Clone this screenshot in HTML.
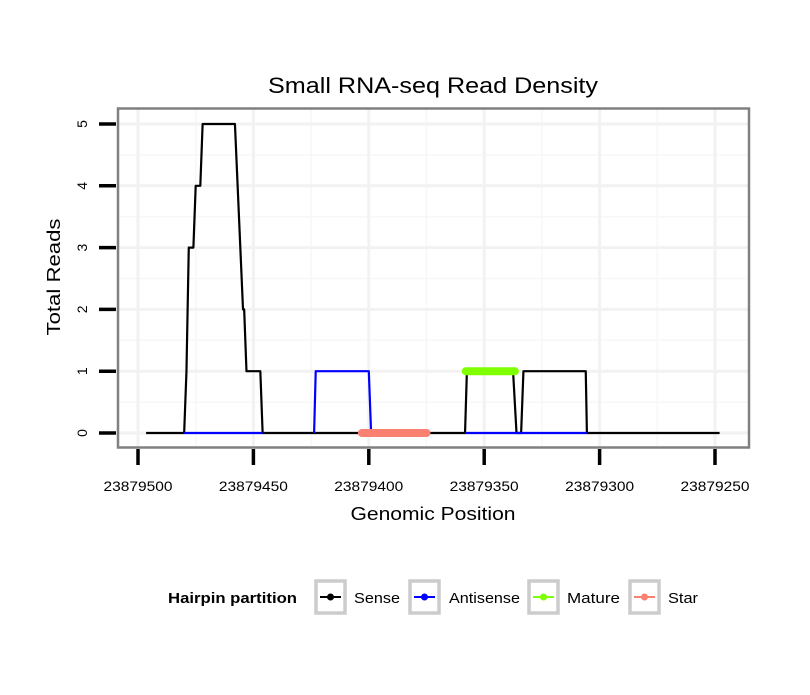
<!DOCTYPE html>
<html><head><meta charset="utf-8"><style>
body{margin:0;background:#fff;}
svg text{font-family:"Liberation Sans",sans-serif;}
</style></head><body>
<svg id="c" width="810" height="690" xmlns="http://www.w3.org/2000/svg">
<text x="433" y="93" font-size="22" text-anchor="middle" textLength="330" lengthAdjust="spacingAndGlyphs">Small RNA-seq Read Density</text>
<g id="grid"></g>
<g id="series"></g>
<rect x="118" y="108.5" width="631" height="339" fill="none" stroke="#808080" stroke-width="2.5"/>
<g id="axes"></g>
<text x="433" y="520" font-size="18" text-anchor="middle" textLength="165" lengthAdjust="spacingAndGlyphs">Genomic Position</text>
<text transform="translate(60,277) rotate(-90)" font-size="18" text-anchor="middle" textLength="117" lengthAdjust="spacingAndGlyphs">Total Reads</text>
<g>
<text x="168" y="603" font-size="14.5" font-weight="bold" textLength="129" lengthAdjust="spacingAndGlyphs">Hairpin partition</text>
<g id="legend"></g>
</g>
</svg>
<script>
const xTicks=[23879500,23879450,23879400,23879350,23879300,23879250];
const yTicks=[0,1,2,3,4,5];
const senseX=[23879496.5,23879480,23879479,23879478,23879476,23879475,23879473,23879472,23879458,23879454.5,23879454,23879453,23879447,23879446,23879358.3,23879357.5,23879337.5,23879336,23879334,23879333,23879306,23879305.5,23879248];
const senseY=[0,0,1,3,3,4,4,5,5,2,2,1,1,0,0,1,1,0,0,1,1,0,0];
const antiX1=[23879480,23879446];const antiY1=[0,0];
const antiX2=[23879423.7,23879423,23879400,23879399];const antiY2=[0,1,1,0];
const antiX3=[23879358.3,23879305.5];const antiY3=[0,0];
const matureX=[23879358,23879336.7];const matureY=[1,1];
const starX=[23879403,23879375];const starY=[0,0];
const legendLabels=["Sense","Antisense","Mature","Star"];
const legendColors=["#000","#0000ff","#7fff00","#fa8072"];

const NS="http://www.w3.org/2000/svg";
const xs=v=>138+(23879500-v)*2.308;
const ys=v=>433-v*61.8;
function mk(t,a,p){const e=document.createElementNS(NS,t);for(const k in a)e.setAttribute(k,a[k]);p.appendChild(e);return e;}
const grid=document.getElementById('grid'),axes=document.getElementById('axes'),ser=document.getElementById('series');
for(let i=0;i<xTicks.length-1;i++){const v=(xTicks[i]+xTicks[i+1])/2;const l=mk('line',{x1:xs(v),x2:xs(v),y1:109,y2:447,stroke:'#f7f7f7','stroke-width':1.5},grid);}
for(let i=0;i<yTicks.length-1;i++){const v=(yTicks[i]+yTicks[i+1])/2;const l=mk('line',{x1:118,x2:749,y1:ys(v),y2:ys(v),stroke:'#f7f7f7','stroke-width':1.5},grid);}
xTicks.forEach(v=>{const l=mk('line',{x1:xs(v),x2:xs(v),y1:109,y2:447,stroke:'#f2f2f2','stroke-width':3},grid);
 const t=mk('line',{x1:xs(v),x2:xs(v),y1:449,y2:465,stroke:'#000','stroke-width':3.5},axes);
 const tx=mk('text',{x:xs(v),y:491,'font-size':14,'text-anchor':'middle',textLength:69,lengthAdjust:'spacingAndGlyphs'},axes);tx.textContent=v;});
yTicks.forEach(v=>{const l=mk('line',{x1:118,x2:749,y1:ys(v),y2:ys(v),stroke:'#f2f2f2','stroke-width':3},grid);
 const t=mk('line',{x1:99,x2:116,y1:ys(v),y2:ys(v),stroke:'#000','stroke-width':3.5},axes);
 const tx=mk('text',{transform:`translate(87,${ys(v)}) rotate(-90)`,'font-size':14,'text-anchor':'middle'},axes);tx.textContent=v;});
function line(X,Y,col,w,name){const d=X.map((x,i)=>(i?'L':'M')+xs(x)+','+ys(Y[i])).join('');const p=mk('path',{d:d,fill:'none',stroke:col,'stroke-width':w,'stroke-linecap':w>4?'round':'butt','stroke-linejoin':'round'},ser);}
line(senseX,senseY,'#000',2.2,'sense-line');
line(antiX1,antiY1,'#0000ff',2.2,'antisense-line');
line(antiX2,antiY2,'#0000ff',2.2,'antisense-line');
line(antiX3,antiY3,'#0000ff',2.2,'antisense-line');
line(matureX,matureY,'#7fff00',8,'mature-line');
line(starX,starY,'#fa8072',8,'star-line');
const lg=document.getElementById('legend');
const lx=[314,408,527,628];
const tx=[354,449,567,668];
const tw=[46,71,53,30];
legendLabels.forEach((lab,i)=>{const g=mk('g',{},lg);
 mk('rect',{x:lx[i]+2,y:581,width:29,height:32,fill:'#fff',stroke:'#ccc','stroke-width':3.5},g);
 mk('line',{x1:lx[i]+6,x2:lx[i]+27,y1:597,y2:597,stroke:legendColors[i],'stroke-width':2},g);
 mk('circle',{cx:lx[i]+16.5,cy:597,r:3.5,fill:legendColors[i]},g);
 const t=mk('text',{x:tx[i],y:603,'font-size':15,textLength:tw[i],lengthAdjust:'spacingAndGlyphs'},g);t.textContent=lab;});
</script>
</body></html>
